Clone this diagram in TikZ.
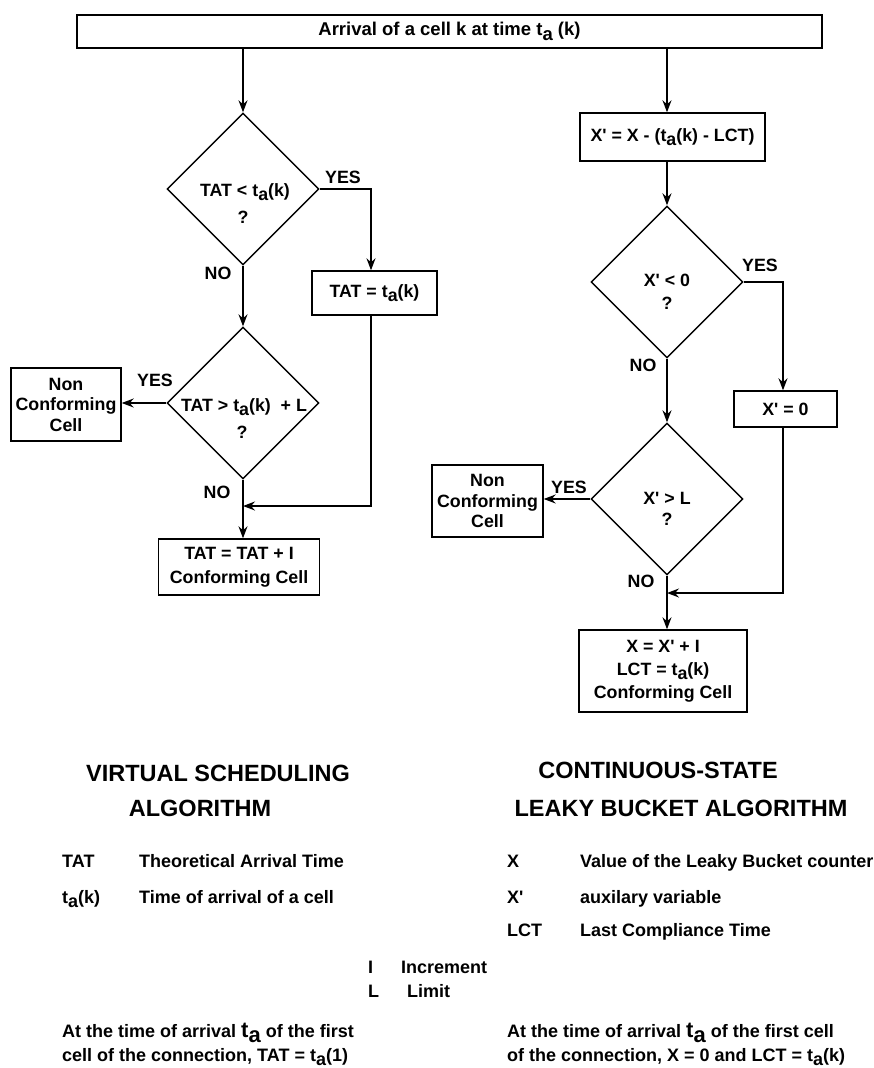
\documentclass[tikz,border=0pt]{standalone}
\usepackage{fontspec}
\setmainfont{Liberation Sans}[Ligatures=TeXOff]
\usetikzlibrary{shapes.geometric,arrows.meta}
\newcommand\tA{t\raisebox{-0.45ex}{a}}
\begin{document}
\begin{tikzpicture}[x=1pt,y=-1pt,
  fc/.style={font=\fontsize{17.8}{20}\selectfont\bfseries},
  box/.style={draw, line width=1.4pt, inner sep=0pt, fc, align=center},
  dia/.style={draw, diamond, aspect=1, line width=1.4pt, minimum width=152pt, minimum height=152pt, inner sep=0pt},
  ln/.style={line width=1.4pt},
  arr/.style={ln, -{Stealth[length=12pt,width=9pt,inset=4pt]}},
  leg/.style={font=\fontsize{18}{20}\selectfont\bfseries, anchor=base west, inner sep=0pt},
  ttl/.style={font=\fontsize{23.5}{26}\selectfont\bfseries}]
\useasboundingbox (0,0) rectangle (874,1068);
% top
\node[box, minimum width=745pt, minimum height=33pt, font=\fontsize{18.5}{20}\selectfont\bfseries] (top) at (449.5,31.5) {Arrival of a cell k at time \tA\ (k)};
% left column
\node[dia] (d1) at (243,189) {};
\node[fc, anchor=base] (d1a) at (245,196) {TAT < \tA(k)};
\node[fc, anchor=base] (d1b) at (243,223) {?};
\node[fc] (y1) at (343,177) {YES};
\coordinate (c1) at (371,0);
\node[box, minimum width=125pt, minimum height=44pt] (b1) at (374.5,293) {TAT = \tA(k)};
\node[fc] (n1) at (218,273) {NO};
\node[dia] (d2) at (243,403) {};
\node[fc, anchor=base] (d2a) at (244,411) {TAT > \tA(k)\ \ + L};
\node[fc, anchor=base] (d2b) at (242,438) {?};
\node[fc] (y2) at (155,380) {YES};
\node[box, minimum width=110pt, minimum height=73pt, font=\fontsize{17.8}{20.5}\selectfont\bfseries] (nc1) at (66,404.5) {Non\\Conforming\\Cell};
\node[fc] (n2) at (217,492) {NO};
\coordinate (j1) at (243,506);
\node[box, minimum width=161pt, minimum height=56pt, font=\fontsize{17.8}{24}\selectfont\bfseries] (b2) at (239,567) {TAT = TAT + I\\Conforming Cell};
\draw[arr] (top.south -| d1.north) -- (d1.north);
\draw[arr] (d1.east) -- (d1.east -| c1) -- (c1 |- b1.north);
\draw[arr] (d1.south) -- (d2.north);
\draw[arr] (d2.west) -- (d2.west -| nc1.east);
\draw[arr] (c1 |- b1.south) |- (j1);
\draw[arr] (d2.south) -- (d2.south |- b2.north);
% right column
\coordinate (c3) at (667,0);
\node[box, minimum width=185pt, minimum height=48pt] (r1) at (672.5,137) {X' = X - (\tA(k) - LCT)};
\node[dia] (d3) at (667,282) {};
\node[fc, anchor=base] (d3a) at (667,286) {X' < 0};
\node[fc, anchor=base] (d3b) at (667,309) {?};
\node[fc] (y3) at (760,265) {YES};
\coordinate (c2) at (783,0);
\node[box, minimum width=103pt, minimum height=36pt] (r2) at (785.5,409) {X' = 0};
\node[fc] (n3) at (643,365) {NO};
\node[dia] (d4) at (667,499) {};
\node[fc, anchor=base] (d4a) at (667,504) {X' > L};
\node[fc, anchor=base] (d4b) at (667,525) {?};
\node[box, minimum width=111pt, minimum height=72pt, font=\fontsize{17.8}{20.5}\selectfont\bfseries] (nc2) at (487.5,501) {Non\\Conforming\\Cell};
\node[fc] (y4) at (569,487) {YES};
\node[fc] (n4) at (641,581) {NO};
\coordinate (j2) at (667,593);
\node[box, minimum width=168pt, minimum height=82pt, font=\fontsize{17.8}{23}\selectfont\bfseries] (r3) at (663,671) {X = X' + I\\LCT = \tA(k)\\Conforming Cell};
\draw[arr] (top.south -| c3) -- (c3 |- r1.north);
\draw[arr] (c3 |- r1.south) -- (d3.north);
\draw[arr] (d3.east) -- (d3.east -| c2) -- (c2 |- r2.north);
\draw[arr] (d3.south) -- (d4.north);
\draw[arr] (d4.west) -- (d4.west -| nc2.east);
\draw[arr] (c2 |- r2.south) |- (j2);
\draw[arr] (d4.south) -- (d4.south |- r3.north);
% titles
\node[ttl] (t1) at (218,773) {VIRTUAL SCHEDULING};
\node[ttl] (t2) at (200,808) {ALGORITHM};
\node[ttl] (t3) at (658,770) {CONTINUOUS-STATE};
\node[ttl] (t4) at (681,808) {LEAKY BUCKET ALGORITHM};
% legend
\node[leg] (l1) at (62,867) {TAT};
\node[leg] (l1d) at (139,867) {Theoretical Arrival Time};
\node[leg] (l2) at (62,903) {\tA(k)};
\node[leg] (l2d) at (139,903) {Time of arrival of a cell};
\node[leg] (l3) at (507,867) {X};
\node[leg] (l3d) at (580,867) {Value of the Leaky Bucket counter};
\node[leg] (l4) at (507,903) {X'};
\node[leg] (l4d) at (580,903) {auxilary variable};
\node[leg] (l5) at (507,936) {LCT};
\node[leg] (l5d) at (580,936) {Last Compliance Time};
\node[leg] (l6) at (368,973) {I};
\node[leg] (l6d) at (401,973) {Increment};
\node[leg] (l7) at (368,997) {L};
\node[leg] (l7d) at (407,997) {Limit};
\node[leg] (n5) at (62,1037) {At the time of arrival {\fontsize{22}{22}\selectfont\tA} of the first};
\node[leg] (n6) at (62,1061) {cell of the connection, TAT = \tA(1)};
\node[leg] (n7) at (507,1037) {At the time of arrival {\fontsize{22}{22}\selectfont\tA} of the first cell};
\node[leg] (n8) at (507,1061) {of the connection, X = 0 and LCT = \tA(k)};
\end{tikzpicture}
\end{document}
